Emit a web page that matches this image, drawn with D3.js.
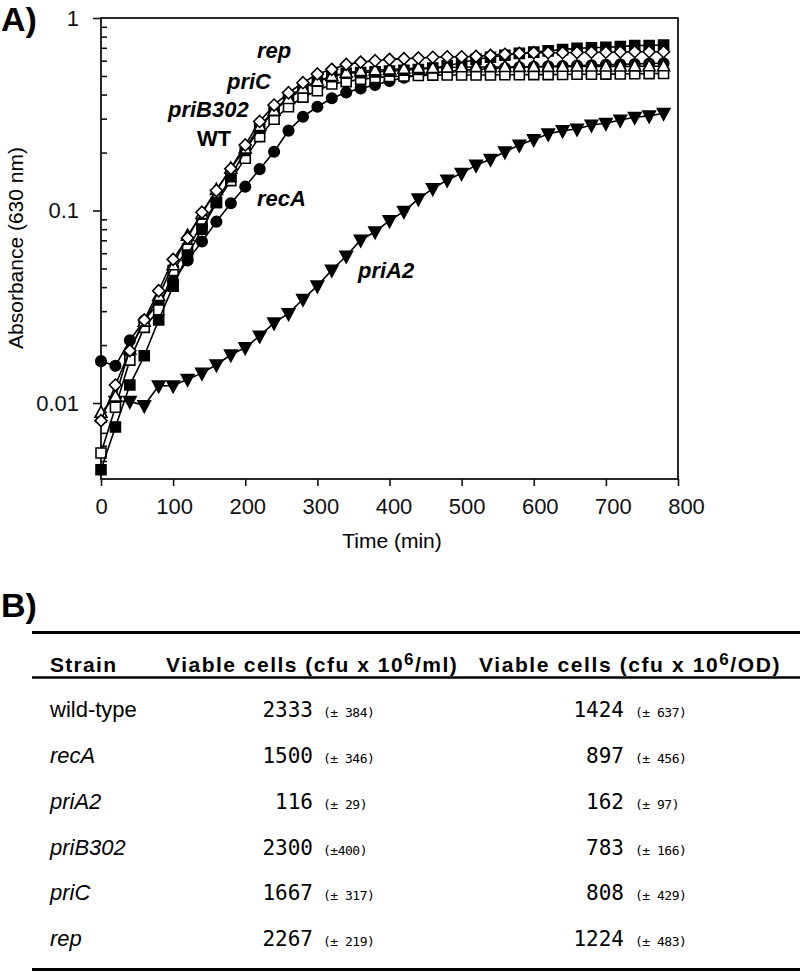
<!DOCTYPE html>
<html><head><meta charset="utf-8">
<script src="https://cdn.jsdelivr.net/npm/d3@7"></script>
<style>body{margin:0;background:#fff}svg{display:block}</style>
</head><body>
<svg id="c" width="800" height="972"></svg>
<script>
// ---------- data ----------
const times = [0,20,40,60,80,100,120,140,160,180,200,220,240,260,280,300,320,340,360,380,400,420,440,460,480,500,520,540,560,580,600,620,640,660,680,700,720,740,760,780];
const recA = [0.0165,0.0156,0.0212,0.0268,0.0334,0.043,0.055,0.069,0.0875,0.109,0.133,0.164,0.202,0.26,0.307,0.346,0.383,0.41,0.431,0.449,0.471,0.49,0.505,0.518,0.528,0.535,0.54,0.545,0.55,0.555,0.558,0.561,0.563,0.566,0.568,0.571,0.574,0.577,0.58,0.582];
const priA2 = [null,0.0102,0.0102,0.0097,0.0123,0.0123,0.0133,0.0143,0.0158,0.0178,0.0194,0.0223,0.0261,0.0292,0.0346,0.0406,0.0491,0.058,0.0703,0.0776,0.0886,0.099,0.115,0.13,0.144,0.156,0.172,0.1845,0.202,0.219,0.234,0.25,0.26,0.265,0.278,0.284,0.295,0.305,0.31,0.32];
const wt = [0.0055,0.0095,0.0167,0.0247,0.0304,0.0487,0.063,0.085,0.11,0.143,0.187,0.242,0.298,0.346,0.388,0.419,0.454,0.467,0.48,0.49,0.496,0.5,0.503,0.505,0.506,0.506,0.506,0.506,0.507,0.507,0.508,0.508,0.509,0.51,0.51,0.511,0.512,0.513,0.514,0.515];
const priB302 = [0.0045,0.0075,0.0124,0.0176,0.027,0.0405,0.0587,0.08,0.11,0.15,0.205,0.268,0.33,0.39,0.435,0.47,0.495,0.516,0.52,0.525,0.53,0.535,0.54,0.55,0.565,0.585,0.61,0.625,0.64,0.655,0.665,0.675,0.685,0.695,0.7,0.705,0.71,0.72,0.72,0.724];
const priC = [0.0089,0.0108,0.019,0.0265,0.036,0.052,0.074,0.096,0.128,0.165,0.21,0.275,0.33,0.38,0.43,0.47,0.5,0.52,0.53,0.535,0.54,0.545,0.55,0.55,0.553,0.555,0.556,0.556,0.557,0.558,0.558,0.558,0.559,0.56,0.56,0.56,0.56,0.561,0.562,0.562];
const rep = [0.0081,0.0124,0.0187,0.027,0.0383,0.0557,0.072,0.098,0.127,0.165,0.219,0.29,0.353,0.409,0.461,0.512,0.541,0.574,0.59,0.6,0.61,0.615,0.62,0.625,0.629,0.629,0.632,0.64,0.648,0.655,0.66,0.66,0.66,0.662,0.664,0.664,0.666,0.668,0.668,0.668];

const xTicks = [0,100,200,300,400,500,600,700,800];
const yMajorTicks = [1,0.1,0.01];
const yMajorLabels = ["1","0.1","0.01"];
const yMinorTicks = [0.005,0.006,0.007,0.008,0.009,0.02,0.03,0.04,0.05,0.06,0.07,0.08,0.09,0.2,0.3,0.4,0.5,0.6,0.7,0.8,0.9];

const tableStrains = ["wild-type","recA","priA2","priB302","priC","rep"];
const strainItalic = [false,true,true,true,true,true];
const cfuMl = ["2333","1500","116","2300","1667","2267"];
const cfuMlErr = ["(± 384)","(± 346)","(± 29)","(±400)","(± 317)","(± 219)"];
const cfuOD = ["1424","897","162","783","808","1224"];
const cfuODErr = ["(± 637)","(± 456)","(± 97)","(± 166)","(± 429)","(± 483)"];

// ---------- drawing ----------
const svg = d3.select("#c");
const SANS = "'Liberation Sans', Arial, Helvetica, sans-serif";
const MONO = "'DejaVu Sans Mono', monospace";
const x = d3.scaleLinear().domain([0,800]).range([101,678]);
const y = d3.scaleLog().domain([0.00403,1]).range([479,18]);

svg.append("text").attr("x",1).attr("y",31).attr("font-family",SANS)
  .attr("font-weight","bold").attr("font-size",34).text("A)");
svg.append("text").attr("x",1).attr("y",617).attr("font-family",SANS)
  .attr("font-weight","bold").attr("font-size",34).text("B)");

// axes
const xAxis = d3.axisBottom(x).tickValues(xTicks).tickSize(7).tickPadding(12).tickFormat(d3.format("d"));
const gx = svg.append("g").attr("transform","translate(0,479)").call(xAxis);
const yAxis = d3.axisLeft(y).tickValues(yMajorTicks).tickSize(8).tickPadding(14)
  .tickFormat((d,i)=>yMajorLabels[i]);
const gy = svg.append("g").attr("transform","translate(101,0)").call(yAxis);
const yMinor = d3.axisLeft(y).tickValues(yMinorTicks).tickSize(-6).tickFormat("");
const gym = svg.append("g").attr("transform","translate(101,0)").call(yMinor);
[gx,gy,gym].forEach(g=>{
  g.select(".domain").remove();
  g.selectAll("line").attr("stroke","#111").attr("stroke-width",1.6);
  g.selectAll("text").attr("font-family",SANS).attr("font-size",22).attr("fill","#111");
});
gx.selectAll("text").attr("dx",d=>d/100);

// frame
svg.append("rect").attr("x",101).attr("y",18).attr("width",577).attr("height",461)
  .attr("fill","none").attr("stroke","#111").attr("stroke-width",1.8);

svg.append("text").attr("transform","translate(23,248) rotate(-90)")
  .attr("text-anchor","middle").attr("font-family",SANS).attr("font-size",21)
  .text("Absorbance (630 nm)");
svg.append("text").attr("x",392).attr("y",548).attr("text-anchor","middle")
  .attr("font-family",SANS).attr("font-size",21).text("Time (min)");

// marker shapes
const shapes = {
  circle: s => d3.symbol(d3.symbolCircle, Math.PI*(s/2)*(s/2))(),
  square: s => `M${-s/2},${-s/2}h${s}v${s}h${-s}Z`,
  diamond: s => `M0,${-s/2}L${s/2},0L0,${s/2}L${-s/2},0Z`,
  triUp: s => `M0,${-s*0.55}L${s/2},${s*0.38}L${-s/2},${s*0.38}Z`,
  triDown: s => `M0,${s*0.55}L${s/2},${-s*0.38}L${-s/2},${-s*0.38}Z`
};

const series = [
  {name:"recA", values:recA, shape:"circle", size:10.5, fill:"#000"},
  {name:"priA2", values:priA2, shape:"triDown", size:12.5, fill:"#000"},
  {name:"WT", values:wt, shape:"square", size:10, fill:"#fff"},
  {name:"priB302", values:priB302, shape:"square", size:10, fill:"#000"},
  {name:"priC", values:priC, shape:"triUp", size:12, fill:"#fff"},
  {name:"rep", values:rep, shape:"diamond", size:12, fill:"#fff"}
];

const line = d3.line().defined(d=>d.v!=null).x(d=>x(d.t)).y(d=>y(d.v));
series.forEach(s=>{
  const pts = times.map((t,i)=>({t, v:s.values[i]}));
  const g = svg.append("g");
  g.append("path").attr("d",line(pts)).attr("fill","none").attr("stroke","#000").attr("stroke-width",1.6);
  g.selectAll("path.m").data(pts.filter(d=>d.v!=null)).join("path").attr("class","m")
    .attr("transform",d=>`translate(${x(d.t)},${y(d.v)})`)
    .attr("d",shapes[s.shape](s.size))
    .attr("fill",s.fill).attr("stroke","#000").attr("stroke-width",1.6);
});

// curve labels
const curveLabels = [
  {t:"rep", x:257, y:58, it:true},
  {t:"priC", x:227, y:89, it:true},
  {t:"priB302", x:168, y:117, it:true},
  {t:"WT", x:197, y:146, it:false},
  {t:"recA", x:257, y:206, it:true},
  {t:"priA2", x:358, y:278, it:true}
];
svg.selectAll("text.cl").data(curveLabels).join("text").attr("class","cl")
  .attr("x",d=>d.x).attr("y",d=>d.y).attr("font-family",SANS).attr("font-size",22)
  .attr("font-weight","bold").attr("font-style",d=>d.it?"italic":"normal").text(d=>d.t);

// ---------- table ----------
const tl = svg.append("g");
tl.append("line").attr("x1",32).attr("x2",800).attr("y1",632.5).attr("y2",632.5).attr("stroke","#000").attr("stroke-width",3);
tl.append("line").attr("x1",32).attr("x2",800).attr("y1",677.5).attr("y2",677.5).attr("stroke","#000").attr("stroke-width",2.5);
tl.append("line").attr("x1",32).attr("x2",800).attr("y1",969.5).attr("y2",969.5).attr("stroke","#000").attr("stroke-width",3);

function header(xp, pre, post, ls){
  const t = svg.append("text").attr("x",xp).attr("y",672).attr("font-family",SANS)
    .attr("font-weight","bold").attr("font-size",21).attr("letter-spacing",ls);
  t.append("tspan").text(pre);
  if(post!==undefined){
    t.append("tspan").attr("font-size",17).attr("dy",-7).text("6");
    t.append("tspan").attr("font-size",21).attr("dy",7).text(post);
  }
}
header(50,"Strain",undefined,1.3);
header(166,"Viable cells (cfu x 10","/ml)",1.5);
header(479,"Viable cells (cfu x 10","/OD)",1.6);

const rowY = [717,763,809,855,900,946];
tableStrains.forEach((s,i)=>{
  svg.append("text").attr("x",50).attr("y",rowY[i]).attr("font-family",SANS).attr("font-size",22)
    .attr("font-style",strainItalic[i]?"italic":"normal").text(s);
  svg.append("text").attr("x",313).attr("y",rowY[i]).attr("text-anchor","end")
    .attr("font-family",MONO).attr("font-size",21).text(cfuMl[i]);
  svg.append("text").attr("x",323).attr("y",rowY[i]).attr("font-family",MONO)
    .attr("font-size",13).attr("letter-spacing",-0.5).text(cfuMlErr[i]);
  svg.append("text").attr("x",624).attr("y",rowY[i]).attr("text-anchor","end")
    .attr("font-family",MONO).attr("font-size",21).text(cfuOD[i]);
  svg.append("text").attr("x",635).attr("y",rowY[i]).attr("font-family",MONO)
    .attr("font-size",13).attr("letter-spacing",-0.5).text(cfuODErr[i]);
});
</script>
</body></html>
